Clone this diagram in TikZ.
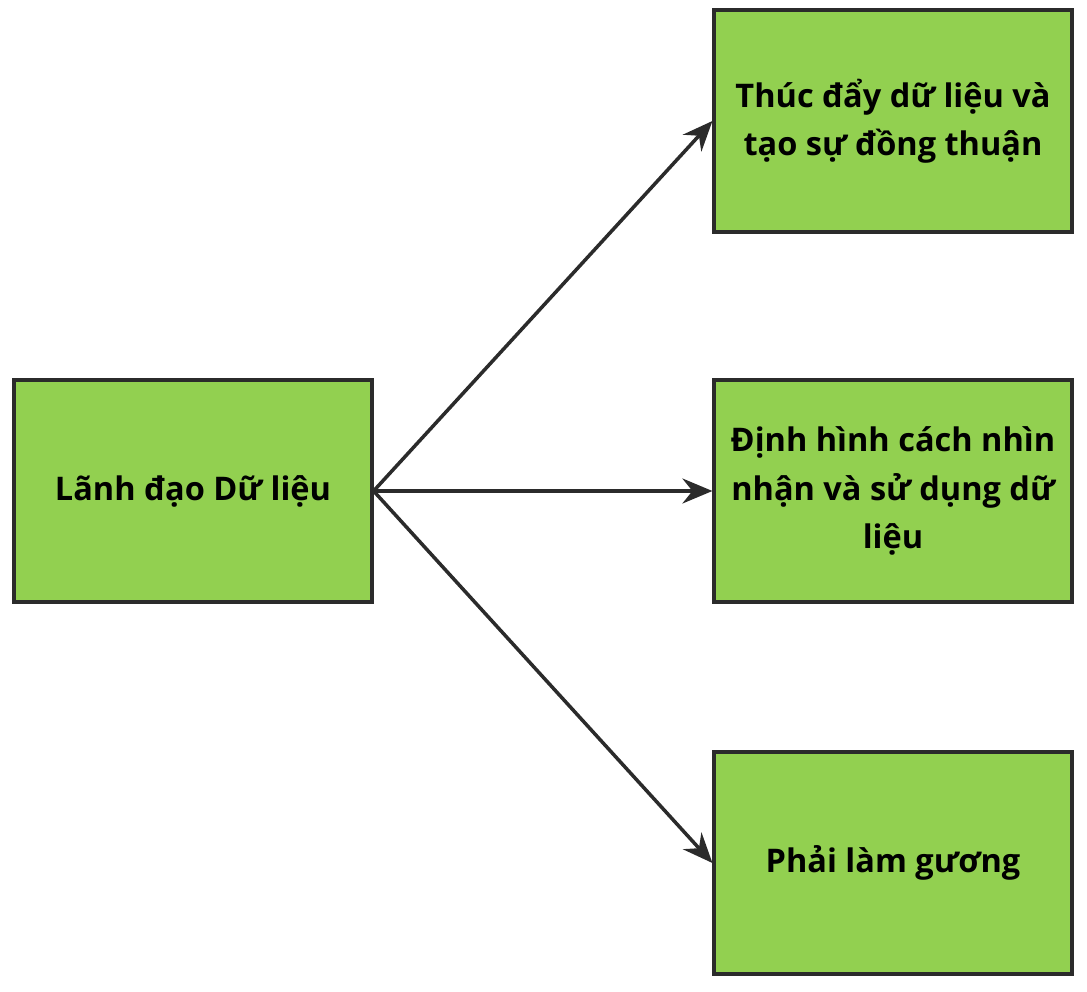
\documentclass[tikz,border=0pt]{standalone}
\usepackage{fontspec}
\setmainfont{Open Sans}
\usetikzlibrary{arrows.meta}
\definecolor{boxgreen}{HTML}{92D050}
\definecolor{edgegray}{HTML}{2B2B2B}
\tikzset{
  box/.style={draw=edgegray,line width=1.8pt,fill=boxgreen,minimum width=7.16cm,
    minimum height=4.44cm,align=center,font=\fontsize{18.5}{27.5}\selectfont\bfseries},
  arrow/.style={draw=edgegray,line width=2pt,-{Stealth[length=0.6cm,width=0.5cm,inset=0.2cm]}}
}
\begin{document}
\begin{tikzpicture}
\useasboundingbox (0,0) rectangle (21.74,-19.84);
\node[box] (lead) at (3.86,-9.82) {Lãnh đạo Dữ liệu};
\node[box] (push) at (17.86,-2.42) {Thúc đẩy dữ liệu và\\tạo sự đồng thuận};
\node[box] (shape) at (17.86,-9.82) {Định hình cách nhìn\\nhận và sử dụng dữ\\liệu};
\node[box] (model) at (17.86,-17.26) {Phải làm gương};
\draw[arrow] (lead.east) -- (push.west);
\draw[arrow] (lead.east) -- (shape.west);
\draw[arrow] (lead.east) -- (model.west);
\end{tikzpicture}
\end{document}
